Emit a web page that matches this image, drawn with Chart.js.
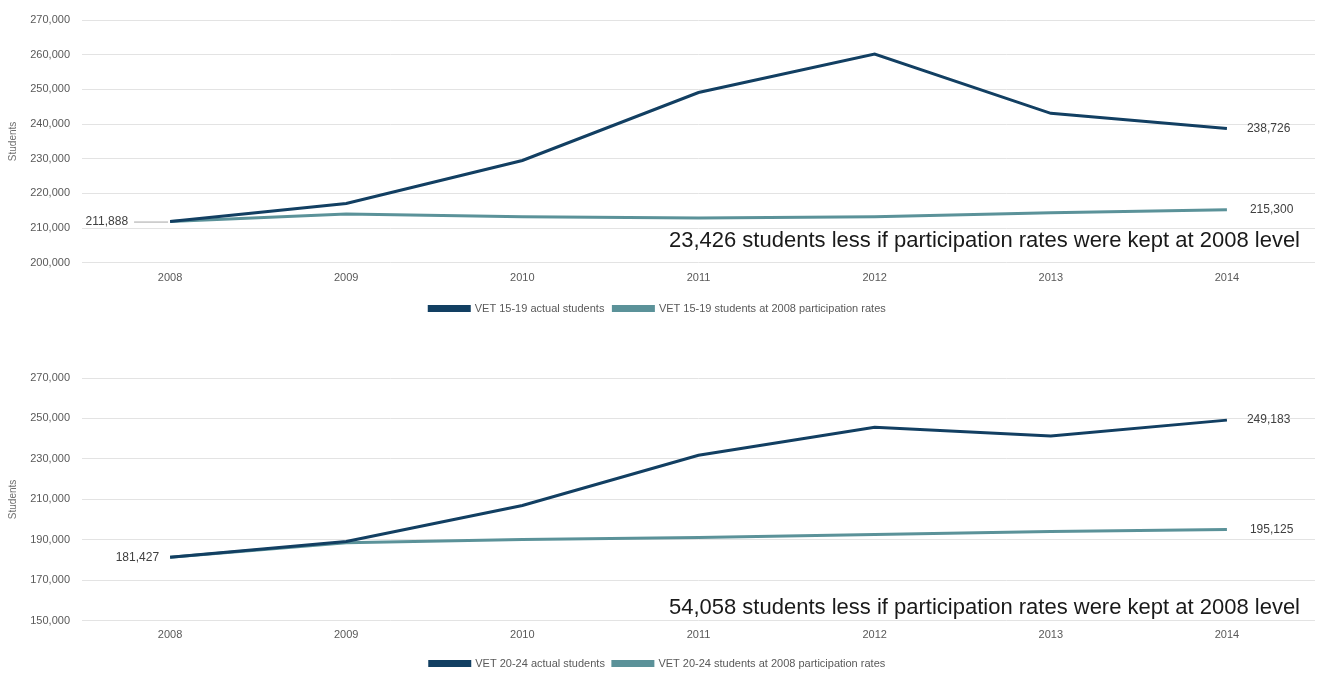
<!DOCTYPE html>
<html>
<head>
<meta charset="utf-8">
<title>VET students vs 2008 participation rates</title>
<script src="https://cdn.jsdelivr.net/npm/chart.js@4/dist/chart.umd.min.js"></script>
<style>
  html, body { margin: 0; padding: 0; background: #fff; }
  body { width: 1321px; height: 673px; position: relative; overflow: hidden; }
  .panel { position: absolute; left: 0; width: 1321px; }
  #panel-top { top: 0; height: 324px; }
  #panel-bottom { top: 355px; height: 324px; }
</style>
</head>
<body>
<div class="panel" id="panel-top"><canvas id="chart15"></canvas></div>
<div class="panel" id="panel-bottom"><canvas id="chart20"></canvas></div>
<script>
// Data
const years = ['2008', '2009', '2010', '2011', '2012', '2013', '2014'];

const vet1519Actual = [211888, 217100, 229500, 249100, 260200, 243100, 238726];
const vet1519At2008 = [211888, 214100, 213300, 212900, 213300, 214400, 215300];

const vet2024Actual = [181427, 189200, 207000, 231800, 245700, 241300, 249183];
const vet2024At2008 = [181427, 188600, 190200, 191200, 192700, 194100, 195125];

const ticks1519 = { min: 200000, max: 270000, step: 10000 };
const ticks2024 = { min: 150000, max: 270000, step: 20000 };

const NAVY = '#123f62';
const TEAL = '#5b9299';
const FONT = "'Liberation Sans', Arial, sans-serif";

const fmt = v => v.toLocaleString('en-US');

/**
 * Draws the start / end value labels and the gap note
 */
const valueLabels = {
    id: 'valueLabels',
    afterDatasetsDraw(chart, args, opts) {
        const ctx = chart.ctx;
        const area = chart.chartArea;
        const m0 = chart.getDatasetMeta(0);
        const m1 = chart.getDatasetMeta(1);
        const d0 = chart.data.datasets[0].data;
        const d1 = chart.data.datasets[1].data;
        const last = d0.length - 1;

        ctx.save();
        ctx.font = '12px ' + FONT;
        ctx.fillStyle = '#404040';
        ctx.textBaseline = 'middle';

        // start value (both series start together)
        const p0 = m0.data[0];
        ctx.textAlign = 'right';
        ctx.fillText(fmt(d0[0]), p0.x - opts.startGap, p0.y);
        if (opts.leader > 0) {
            ctx.strokeStyle = '#a6a6a6';
            ctx.lineWidth = 1;
            ctx.beginPath();
            ctx.moveTo(p0.x - opts.leader, p0.y + 0.5);
            ctx.lineTo(p0.x - 2, p0.y + 0.5);
            ctx.stroke();
        }

        // end values
        ctx.textAlign = 'left';
        ctx.fillText(fmt(d0[last]), m0.data[last].x + 20, m0.data[last].y);
        ctx.fillText(fmt(d1[last]), m1.data[last].x + 23, m1.data[last].y);

        // difference note
        const diff = d0[last] - d1[last];
        ctx.font = '22px ' + FONT;
        ctx.fillStyle = '#1a1a1a';
        ctx.textAlign = 'right';
        ctx.fillText(fmt(diff) + ' students less if participation rates were kept at 2008 level',
            area.right - 15, area.bottom - opts.noteOffset);
        ctx.restore();
    }
};

function buildChart(canvasId, labels, actual, at2008, yTicks, ageLabel, opts) {
    const ctx = document.getElementById(canvasId).getContext('2d');
    return new Chart(ctx, {
        type: 'line',
        data: {
            labels: labels,
            datasets: [
                {
                    label: 'VET ' + ageLabel + ' actual students',
                    data: actual,
                    borderColor: NAVY,
                    backgroundColor: NAVY,
                    borderWidth: 3,
                    pointRadius: 0,
                    tension: 0
                },
                {
                    label: 'VET ' + ageLabel + ' students at 2008 participation rates',
                    data: at2008,
                    borderColor: TEAL,
                    backgroundColor: TEAL,
                    borderWidth: 3,
                    pointRadius: 0,
                    tension: 0
                }
            ]
        },
        options: {
            responsive: true,
            maintainAspectRatio: false,
            animation: false,
            layout: { padding: { top: opts.padTop, right: 6, left: 0, bottom: 0 } },
            plugins: {
                legend: {
                    position: 'bottom',
                    labels: {
                        boxWidth: 40,
                        boxHeight: 4,
                        padding: opts.legendPad,
                        color: '#595959',
                        font: { family: FONT, size: 11 }
                    }
                },
                tooltip: { enabled: false },
                valueLabels: opts.labels
            },
            scales: {
                x: {
                    offset: true,
                    grid: { display: false, drawTicks: false },
                    border: { display: false },
                    ticks: { color: '#595959', padding: opts.xPad, font: { family: FONT, size: 11 } }
                },
                y: {
                    min: yTicks.min,
                    max: yTicks.max,
                    afterFit: scale => { scale.width = 82; },
                    grid: { color: '#e3e3e3', drawTicks: false },
                    border: { display: false },
                    ticks: {
                        stepSize: yTicks.step,
                        padding: 12,
                        color: '#595959',
                        font: { family: FONT, size: 11 },
                        callback: v => fmt(v)
                    },
                    title: {
                        display: true,
                        text: 'Students',
                        color: '#6f6f6f',
                        padding: { top: 7, bottom: 0 },
                        font: { family: FONT, size: 10 }
                    }
                }
            }
        },
        plugins: [valueLabels]
    });
}

buildChart('chart15', years, vet1519Actual, vet1519At2008, ticks1519, '15-19',
    { padTop: 20, xPad: 9, legendPad: 9, labels: { startGap: 42, leader: 36, noteOffset: 22 } });

buildChart('chart20', years, vet2024Actual, vet2024At2008, ticks2024, '20-24',
    { padTop: 23, xPad: 8, legendPad: 8, labels: { startGap: 11, leader: 0, noteOffset: 13 } });
</script>
</body>
</html>
